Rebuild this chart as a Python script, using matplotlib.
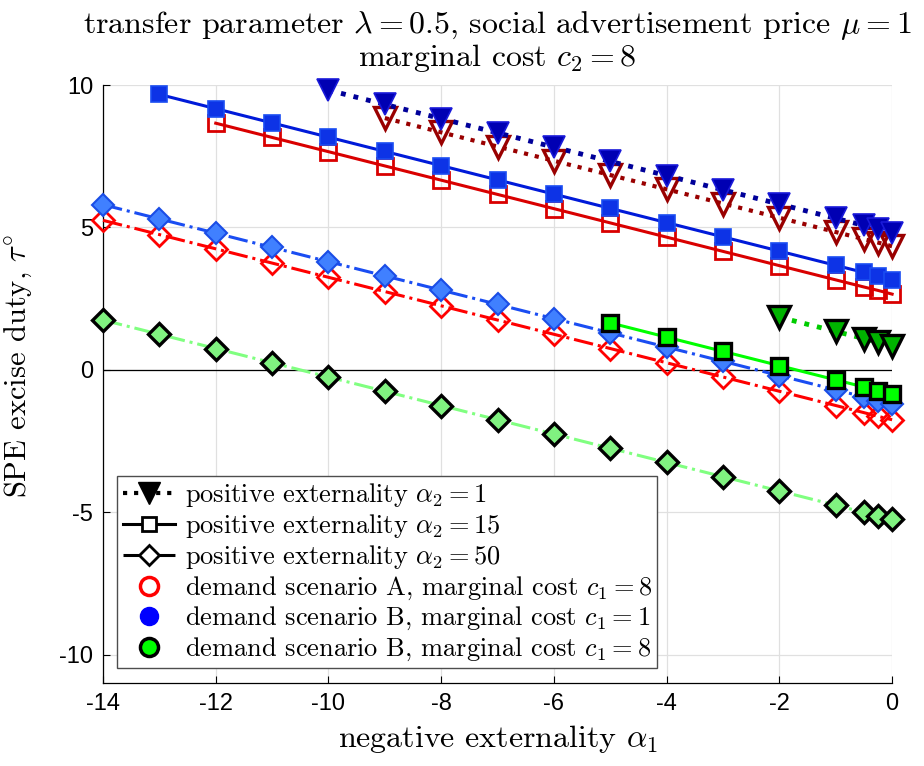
import matplotlib
matplotlib.use("Agg")
import matplotlib.pyplot as plt
from matplotlib.lines import Line2D

plt.rcParams['mathtext.fontset'] = 'cm'
plt.rcParams['axes.unicode_minus'] = False

SERIF = 'cmr10'
SANS = 'Liberation Sans'

# negative externality alpha_1 grid
x_full = [-14, -13, -12, -11, -10, -9, -8, -7, -6, -5, -4, -3, -2, -1, -0.5, -0.25, 0]

# demand scenario A, c1 = 8
a_tri_x = [-9, -8, -7, -6, -5, -4, -3, -2, -1, -0.5, -0.25, 0]
a_tri_y = [8.84, 8.34, 7.84, 7.34, 6.84, 6.34, 5.84, 5.34, 4.84, 4.59, 4.47, 4.34]
a_sq_x = [-12, -11, -10, -9, -8, -7, -6, -5, -4, -3, -2, -1, -0.5, -0.25, 0]
a_sq_y = [8.66, 8.16, 7.66, 7.16, 6.66, 6.16, 5.66, 5.16, 4.66, 4.16, 3.66, 3.16, 2.91, 2.79, 2.66]
a_dia_x = x_full
a_dia_y = [5.25, 4.75, 4.25, 3.75, 3.25, 2.75, 2.25, 1.75, 1.25, 0.75, 0.25, -0.25,
           -0.75, -1.25, -1.50, -1.63, -1.75]

# demand scenario B, c1 = 1
b1_tri_x = [-10, -9, -8, -7, -6, -5, -4, -3, -2, -1, -0.5, -0.25, 0]
b1_tri_y = [9.82, 9.32, 8.82, 8.32, 7.82, 7.32, 6.82, 6.32, 5.82, 5.32, 5.07, 4.95, 4.82]
b1_sq_x = [-13, -12, -11, -10, -9, -8, -7, -6, -5, -4, -3, -2, -1, -0.5, -0.25, 0]
b1_sq_y = [9.67, 9.17, 8.67, 8.17, 7.67, 7.17, 6.67, 6.17, 5.67, 5.17, 4.67, 4.17,
           3.67, 3.42, 3.30, 3.17]
b1_dia_x = x_full
b1_dia_y = [5.80, 5.30, 4.80, 4.30, 3.80, 3.30, 2.80, 2.30, 1.80, 1.30, 0.80, 0.30,
            -0.20, -0.70, -0.95, -1.08, -1.20]

# demand scenario B, c1 = 8
b8_tri_x = [-2, -1, -0.5, -0.25, 0]
b8_tri_y = [1.85, 1.35, 1.10, 0.97, 0.85]
b8_sq_x = [-5, -4, -3, -2, -1, -0.5, -0.25, 0]
b8_sq_y = [1.65, 1.15, 0.65, 0.15, -0.35, -0.60, -0.73, -0.85]
b8_dia_x = x_full
b8_dia_y = [1.75, 1.25, 0.75, 0.25, -0.25, -0.75, -1.25, -1.75, -2.25, -2.75, -3.25,
            -3.75, -4.25, -4.75, -5.00, -5.13, -5.25]

fig = plt.figure(figsize=(9.24, 7.66), dpi=100)
ax = fig.add_axes([0.1115, 0.108, 0.854, 0.781])

ax.axhline(0, color='black', lw=0.9, zorder=1)

LW = 2.2
TRI = 15.5
SQ = 11
DIA = 11.5

# scenario A
ax.plot(a_tri_x, a_tri_y, ls=':', lw=3, color=(0.6, 0, 0), marker='v', ms=TRI,
        mfc='none', mec=(0.6, 0, 0), mew=2.4, zorder=3, clip_on=False)
ax.plot(a_sq_x, a_sq_y, ls='-', lw=LW, color=(0.85, 0, 0), marker='s', ms=SQ,
        mfc='none', mec=(0.85, 0, 0), mew=2, zorder=3, clip_on=False)
ax.plot(a_dia_x, a_dia_y, ls='-.', lw=LW, color=(1, 0, 0), marker='D', ms=DIA,
        mfc='none', mec=(1, 0, 0), mew=2, zorder=3, clip_on=False)

# scenario B, c1 = 1
ax.plot(b1_tri_x, b1_tri_y, ls=':', lw=3.5, color=(0, 0, 0.6), marker='v', ms=TRI,
        mfc=(0, 0, 0.7), mec=(0.1, 0.1, 0.85), mew=1.2, zorder=4, clip_on=False)
ax.plot(b1_sq_x, b1_sq_y, ls='-', lw=LW, color=(0, 0.1, 0.85), marker='s', ms=SQ,
        mfc=(0.05, 0.2, 0.9), mec=(0.1, 0.3, 0.95), mew=1.2, zorder=4, clip_on=False)
ax.plot(b1_dia_x, b1_dia_y, ls='-.', lw=LW, color=(0.1, 0.3, 0.95), marker='D', ms=DIA,
        mfc=(0.25, 0.5, 1.0), mec=(0.1, 0.3, 0.9), mew=1.5, zorder=4, clip_on=False)

# scenario B, c1 = 8
ax.plot(b8_tri_x, b8_tri_y, ls=':', lw=3.5, color=(0, 0.8, 0), marker='v', ms=TRI,
        mfc=(0, 0.7, 0), mec='black', mew=2.4, zorder=5, clip_on=False)
ax.plot(b8_sq_x, b8_sq_y, ls='-', lw=LW, color=(0, 1, 0), marker='s', ms=SQ,
        mfc=(0, 1, 0), mec='black', mew=2.4, zorder=5, clip_on=False)
ax.plot(b8_dia_x, b8_dia_y, ls='-.', lw=LW, color=(0.5, 1, 0.5), marker='D', ms=DIA,
        mfc=(0.5, 0.95, 0.5), mec='black', mew=2.4, zorder=5, clip_on=False)

ax.set_xlim(-14, 0)
ax.set_ylim(-11, 10)
ax.set_xticks([-14, -12, -10, -8, -6, -4, -2, 0])
ax.set_yticks([-10, -5, 0, 5, 10])
ax.set_xticklabels(['-14', '-12', '-10', '-8', '-6', '-4', '-2', '0'])
ax.set_yticklabels(['-10', '-5', '0', '5', '10'])
for lab in ax.get_xticklabels() + ax.get_yticklabels():
    lab.set_fontfamily(SANS)
    lab.set_fontsize(17)
ax.tick_params(direction='in', length=5, width=0.8, pad=7)
ax.grid(True, color=(0.88, 0.88, 0.88), lw=0.9)
ax.set_axisbelow(True)
for side in ['top', 'right']:
    ax.spines[side].set_visible(False)
for side in ['left', 'bottom']:
    ax.spines[side].set_linewidth(0.9)

ax.set_title('transfer parameter $\\lambda = 0.5$, social advertisement price $\\mu = 1$\n'
             'marginal cost $c_2 = 8$', fontfamily=SERIF, fontsize=23,
             linespacing=1.0, pad=14)
ax.set_xlabel('negative externality $\\alpha_1$', fontfamily=SERIF, fontsize=23, labelpad=6)
ax.set_ylabel('SPE excise duty, $\\tau^{\\circ}$', fontfamily=SERIF, fontsize=22)
ax.yaxis.set_label_coords(-0.088, 0.53)

handles = [
    Line2D([], [], ls=':', lw=3, color='black', marker='v', ms=TRI, mfc='black', mec='black'),
    Line2D([], [], ls='-', lw=LW, color='black', marker='s', ms=SQ - 1, mfc='white', mec='black', mew=2),
    Line2D([], [], ls='-.', lw=LW, color='black', marker='D', ms=DIA - 1, mfc='white', mec='black', mew=2),
    Line2D([], [], ls='none', marker='o', ms=13, mfc='white', mec=(1, 0, 0), mew=2.5),
    Line2D([], [], ls='none', marker='o', ms=13, mfc=(0, 0, 1), mec=(0, 0, 1)),
    Line2D([], [], ls='none', marker='o', ms=13, mfc=(0, 1, 0), mec='black', mew=2.5),
]
labels = [
    'positive externality $\\alpha_2 = 1$',
    'positive externality $\\alpha_2 = 15$',
    'positive externality $\\alpha_2 = 50$',
    'demand scenario A, marginal cost $c_1 = 8$',
    'demand scenario B, marginal cost $c_1 = 1$',
    'demand scenario B, marginal cost $c_1 = 8$',
]
leg = ax.legend(handles, labels, loc='lower left', bbox_to_anchor=(0.018, 0.025),
                prop={'family': SERIF, 'size': 19}, frameon=True, fancybox=False,
                edgecolor=(0.3, 0.3, 0.3), framealpha=1, borderpad=0.2,
                handlelength=2.0, handletextpad=0.35, labelspacing=0.12,
                borderaxespad=0)
leg.get_frame().set_linewidth(1.0)
leg.set_zorder(10)

fig.savefig('out.png', dpi=100)
